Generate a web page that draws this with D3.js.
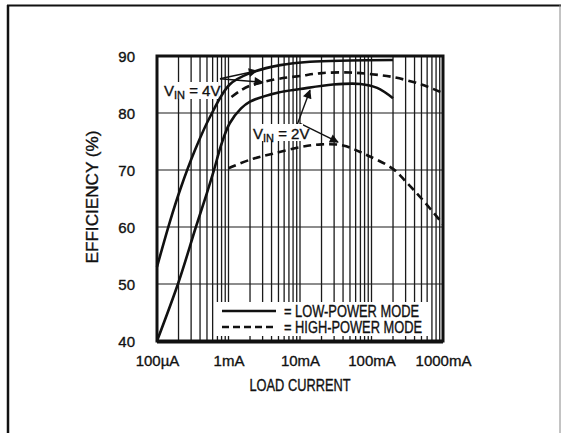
<!DOCTYPE html>
<html><head><meta charset="utf-8">
<script src="https://cdn.jsdelivr.net/npm/d3@7"></script>
<style>
body{margin:0;background:#fff;}
svg{display:block;}
text{font-family:"Liberation Sans",Arial,sans-serif;fill:#111;stroke:#111;stroke-width:0.35;}
</style></head>
<body><svg id="c" width="561" height="433"></svg>
<script>
// ---- data ----
const xTickValues = [0.1, 1, 10, 100, 1000];
const xTickLabels = ["100µA", "1mA", "10mA", "100mA", "1000mA"];
const yTickValues = [40, 50, 60, 70, 80, 90];
const lowPower4V_I = [0.1, 0.152, 0.21, 0.34, 0.55, 1.04, 2.0, 5.3, 13.8, 50, 200];
const lowPower4V_E = [53, 61, 66.5, 73.5, 79.3, 85, 87, 88.4, 89, 89.2, 89.3];
const lowPower2V_I = [0.1, 0.2, 0.35, 0.5, 0.62, 0.8, 1.04, 1.5, 2, 5, 10, 29, 70, 120, 200];
const lowPower2V_E = [40, 50.3, 60, 66, 69.8, 74.6, 78.2, 80.8, 82, 83.6, 84.2, 85, 85.1, 84.4, 82.6];
const highPower4V_I = [1.1, 1.5, 2, 3, 5, 10, 20, 50, 100, 200, 500, 1000];
const highPower4V_E = [82.8, 84, 84.8, 85.4, 86, 86.5, 87, 87.1, 86.8, 86.3, 85, 83.5];
const highPower2V_I = [1, 2, 4, 10, 20, 40, 80, 200, 300, 500, 1000];
const highPower2V_E = [70.3, 71.8, 72.8, 74, 74.5, 74.3, 72.8, 70.2, 68, 65, 60.5];
const minorX = [];
for (const d of [0.1, 1, 10, 100]) for (let k = 2; k <= 9; k++) minorX.push(d * k);

// ---- layout ----
const svg = d3.select("#c");
const x = d3.scaleLog().domain([0.1, 1000]).range([157, 443]);
const y = d3.scaleLinear().domain([40, 90]).range([341, 56]);

// outer frame
svg.append("line").attr("x1", 8).attr("y1", 5).attr("x2", 8).attr("y2", 433).attr("stroke", "#111").attr("stroke-width", 2.5);
svg.append("line").attr("x1", 7).attr("y1", 5.5).attr("x2", 561).attr("y2", 5.5).attr("stroke", "#111").attr("stroke-width", 2);
svg.append("line").attr("x1", 560).attr("y1", 5).attr("x2", 560).attr("y2", 433).attr("stroke", "#888").attr("stroke-width", 1);

// grid
const g = svg.append("g");
g.selectAll(".vx").data(minorX.concat(xTickValues)).join("line")
  .attr("x1", d => x(d)).attr("x2", d => x(d)).attr("y1", y(90)).attr("y2", y(40))
  .attr("stroke", "#1a1a1a").attr("stroke-width", 1.3);
g.selectAll(".hy").data(yTickValues).join("line")
  .attr("x1", x(0.1)).attr("x2", x(1000)).attr("y1", d => y(d)).attr("y2", d => y(d))
  .attr("stroke", "#1a1a1a").attr("stroke-width", 1.2);

// legend background
svg.append("rect").attr("x", 215).attr("y", 302).attr("width", 213).attr("height", 34).attr("fill", "#fff");

// plot border
svg.append("rect").attr("x", x(0.1)).attr("y", y(90)).attr("width", x(1000) - x(0.1)).attr("height", y(40) - y(90))
  .attr("fill", "none").attr("stroke", "#111").attr("stroke-width", 3);
svg.append("line").attr("x1", x(0.1)).attr("x2", x(1000)).attr("y1", y(40) + 1).attr("y2", y(40) + 1)
  .attr("stroke", "#111").attr("stroke-width", 3);

// axes labels
const xa = svg.append("g").attr("transform", `translate(0,${y(40)})`)
  .call(d3.axisBottom(x).tickValues(xTickValues).tickFormat((d, i) => xTickLabels[i]).tickSize(0).tickPadding(14));
xa.select(".domain").remove();
xa.selectAll("text").attr("font-size", 15).attr("font-family", null).attr("fill", "#111");
const ya = svg.append("g").attr("transform", `translate(${x(0.1)},0)`)
  .call(d3.axisLeft(y).tickValues(yTickValues).tickSize(0).tickPadding(22));
ya.select(".domain").remove();
ya.selectAll("text").attr("font-size", 15).attr("font-family", null).attr("fill", "#111").attr("dy", "0.36em");

svg.append("text").attr("x", 300).attr("y", 391).attr("text-anchor", "middle").attr("font-size", 16)
  .attr("textLength", 101).attr("lengthAdjust", "spacingAndGlyphs").text("LOAD CURRENT");
svg.append("text").attr("transform", "translate(98,197) rotate(-90)").attr("text-anchor", "middle").attr("font-size", 16)
  .attr("textLength", 133).attr("lengthAdjust", "spacingAndGlyphs").text("EFFICIENCY (%)");

// curves
const line = d3.line().x(d => x(d[0])).y(d => y(d[1])).curve(d3.curveCatmullRom.alpha(0.5));
function series(I, E) { return I.map((v, i) => [v, E[i]]); }
const curves = [
  {d: series(lowPower4V_I, lowPower4V_E), dash: null},
  {d: series(lowPower2V_I, lowPower2V_E), dash: null},
  {d: series(highPower4V_I, highPower4V_E), dash: "8,5"},
  {d: series(highPower2V_I, highPower2V_E), dash: "8,5"}
];
svg.selectAll(".curve").data(curves).join("path")
  .attr("d", c => line(c.d)).attr("fill", "none").attr("stroke", "#111").attr("stroke-width", 2.6)
  .attr("stroke-dasharray", c => c.dash);

// annotations (arrows in data coords)
svg.append("defs").append("marker").attr("id", "ah").attr("viewBox", "0 0 10 10").attr("refX", 9).attr("refY", 5)
  .attr("markerWidth", 11).attr("markerHeight", 9).attr("markerUnits", "userSpaceOnUse").attr("orient", "auto")
  .append("path").attr("d", "M0,0 L10,5 L0,10 z").attr("fill", "#111");
const arrowFrom = [[0.76, 86], [0.76, 86], [9.1, 77.9], [10, 78.2]];
const arrowTo = [[2.5, 87.4], [3.0, 85.4], [13.8, 84], [34, 74.9]];
svg.selectAll(".arr").data(arrowFrom).join("line")
  .attr("x1", d => x(d[0])).attr("y1", d => y(d[1]))
  .attr("x2", (d, i) => x(arrowTo[i][0])).attr("y2", (d, i) => y(arrowTo[i][1]))
  .attr("stroke", "#111").attr("stroke-width", 1.4).attr("marker-end", "url(#ah)");

function vinLabel(px, py, v) {
  const t = svg.append("text").attr("x", px).attr("y", py).attr("font-size", 15);
  t.append("tspan").text("V");
  t.append("tspan").attr("dy", 3).attr("font-size", 11).text("IN");
  t.append("tspan").attr("dy", -3).text(" = " + v);
}
svg.append("rect").attr("x", 162).attr("y", 82).attr("width", 56).attr("height", 17).attr("fill", "#fff");
vinLabel(164, 96, "4V");
svg.append("rect").attr("x", 251).attr("y", 124).attr("width", 52).attr("height", 17).attr("fill", "#fff");
vinLabel(253, 139, "2V");

// legend
svg.append("line").attr("x1", 222).attr("x2", 276).attr("y1", 311).attr("y2", 311).attr("stroke", "#111").attr("stroke-width", 2.6);
svg.append("line").attr("x1", 222).attr("x2", 276).attr("y1", 327).attr("y2", 327).attr("stroke", "#111").attr("stroke-width", 2.6).attr("stroke-dasharray", "7,4");
svg.append("text").attr("x", 284).attr("y", 317).attr("font-size", 16).attr("textLength", 135).attr("lengthAdjust", "spacingAndGlyphs").text("= LOW-POWER MODE");
svg.append("text").attr("x", 284).attr("y", 333).attr("font-size", 16).attr("textLength", 138).attr("lengthAdjust", "spacingAndGlyphs").text("= HIGH-POWER MODE");
</script></body></html>
